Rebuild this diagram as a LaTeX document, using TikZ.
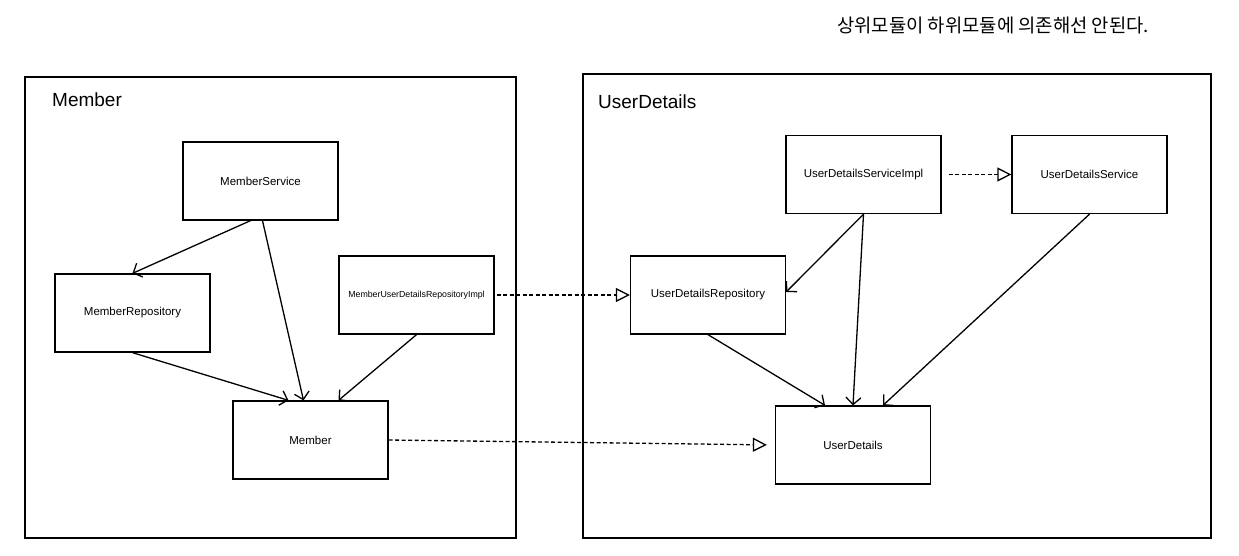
\documentclass[tikz,border=0pt]{standalone}
\usepackage{fontspec}
\setmainfont{Liberation Sans}
\newfontfamily\kr{Noto Sans CJK KR}
\usetikzlibrary{arrows.meta}
\begin{document}
\begin{tikzpicture}[x=1pt,y=-1pt,
  box/.style={draw, line width=1.3pt, minimum width=155pt, minimum height=78pt, inner sep=0pt,
    font=\fontsize{11.5}{13}\selectfont},
  frame/.style={draw, line width=1.3pt, inner sep=0pt},
  title/.style={anchor=west, inner sep=0pt, font=\fontsize{19}{22}\selectfont},
  dep/.style={line width=1.3pt, -{Straight Barb[length=7pt,width=15pt,line width=1.3pt]}},
  real/.style={line width=1.3pt, dash pattern=on 4pt off 2.5pt,
    -{Triangle[open,length=14pt,width=14pt,line width=1.3pt,fill=white]}}
]
\useasboundingbox (0,0) rectangle (1239,555);
\fill[white] (0,0) rectangle (1239,555);

% frames
\node[frame, minimum width=491pt, minimum height=461pt] (fm) at (270.5,307.5) {};
\node[frame, minimum width=628pt, minimum height=464pt] (fu) at (897,306) {};
\node[title] (tm) at (52,100) {Member};
\node[title] (tu) at (598,102) {UserDetails};
\node[anchor=west, inner sep=0pt, font=\kr\fontsize{18.8}{22}\selectfont] (note) at (837,25) {상위모듈이 하위모듈에 의존해선 안된다.};

% left module
\node[box] (ms) at (260.5,181) {MemberService};
\node[box] (mr) at (132.5,313) {MemberRepository};
\node[box, font=\fontsize{8.8}{10}\selectfont] (mi) at (416.5,295) {MemberUserDetailsRepositoryImpl};
\node[box] (m) at (310.5,440) {Member};

% right module
\node[box] (usi) at (863.5,174.5) {UserDetailsServiceImpl};
\node[box] (us) at (1089.5,174.5) {UserDetailsService};
\node[box] (ur) at (708,295) {UserDetailsRepository};
\node[box] (ud) at (853,445) {UserDetails};

% dependencies
\draw[dep] ([xshift=-10pt]ms.south) -- (mr.north);
\draw[dep] ([xshift=2pt]ms.south) -- ([xshift=-7pt]m.north);
\draw[dep] (mr.south) -- ([xshift=-22pt]m.north);
\draw[dep] (mi.south) -- ([xshift=28pt]m.north);

\draw[dep] (usi.south) -- ([yshift=3pt]ur.east);
\draw[dep] (usi.south) -- (ud.north);
\draw[dep] (us.south) -- ([xshift=30pt]ud.north);
\draw[dep] (ur.south) -- ([xshift=-28pt]ud.north);

% realizations
\draw[real, shorten <=2pt] (mi.east) -- (ur.west);
\draw[real, shorten >=8pt] (m.east) -- (ud.west);
\draw[real, shorten <=7pt] (usi.east) -- (us.west);
\end{tikzpicture}
\end{document}
